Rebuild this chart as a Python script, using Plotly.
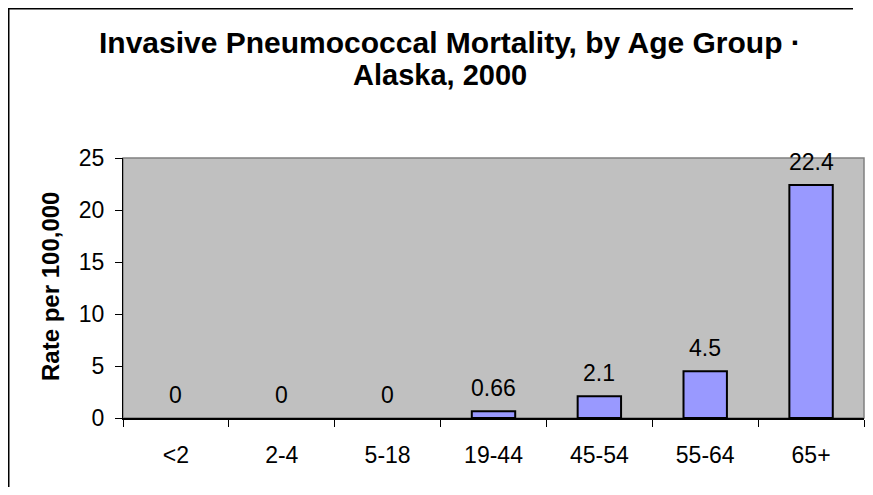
import plotly.graph_objects as go

categories = ["<2", "2-4", "5-18", "19-44", "45-54", "55-64", "65+"]
rates = [0, 0, 0, 0.66, 2.1, 4.5, 22.4]
labels = ["0", "0", "0", "0.66", "2.1", "4.5", "22.4"]
y_ticks = [0, 5, 10, 15, 20, 25]
title_lines = ["Invasive Pneumococcal Mortality, by Age Group ·", "Alaska, 2000"]
y_title = "Rate per 100,000"

FONT = "Liberation Sans, Arial, sans-serif"
W, H = 857, 479
L, R, T, B = 115, 1, 150, 69
PW, PH = W - L - R, H - T - B


def px_x(px):
    return (px - L) / PW


def px_y(py):
    return (H - B - py) / PH


fig = go.Figure()
fig.add_trace(go.Bar(
    x=categories, y=rates,
    marker=dict(color="#9999FF",
                line=dict(color="black", width=[0 if v == 0 else 2 for v in rates])),
    width=0.41,
    hoverinfo="skip",
))

for c, v, t in zip(categories, rates, labels):
    fig.add_annotation(x=c, y=v, text=t, showarrow=False, yanchor="middle",
                       yshift=23, font=dict(family=FONT, size=23, color="black"))

# title lines
fig.add_annotation(xref="paper", yref="paper", x=px_x(442), y=px_y(34),
                   text="<b>" + title_lines[0] + "</b>", showarrow=False,
                   xanchor="center", yanchor="middle",
                   font=dict(family=FONT, size=30, color="black"))
fig.add_annotation(xref="paper", yref="paper", x=px_x(432), y=px_y(67),
                   text="<b>" + title_lines[1] + "</b>", showarrow=False,
                   xanchor="center", yanchor="middle",
                   font=dict(family=FONT, size=29, color="black"))
# y-axis title
fig.add_annotation(xref="paper", yref="paper", x=px_x(42), y=px_y(279),
                   text="<b>" + y_title + "</b>", showarrow=False, textangle=-90,
                   xanchor="center", yanchor="middle",
                   font=dict(family=FONT, size=24, color="black"))

fig.update_layout(
    width=W, height=H,
    margin=dict(l=L, r=R, t=T, b=B, autoexpand=False),
    paper_bgcolor="white",
    plot_bgcolor="#C0C0C0",
    showlegend=False,
    font=dict(family=FONT, size=23, color="black"),
)

fig.update_xaxes(
    type="category",
    showline=True, linecolor="black", linewidth=1.5,
    ticks="outside", tickson="boundaries", ticklen=7, tickcolor="black",
    tickfont=dict(family=FONT, size=23, color="black"),
    ticklabelstandoff=16,
    showgrid=False, zeroline=False, automargin=False,
)
fig.update_yaxes(
    range=[0, 25], tickvals=y_ticks,
    showline=True, linecolor="black", linewidth=1,
    ticks="outside", ticklen=7, tickcolor="black",
    tickfont=dict(family=FONT, size=23, color="black"),
    ticklabelstandoff=6,
    showgrid=False, zeroline=False, automargin=False,
)

# plot area border (gray)
fig.add_shape(type="rect", xref="paper", yref="paper", x0=0, x1=1, y0=0, y1=1,
              line=dict(color="#808080", width=1.5), layer="below")
# outer chart border (left and top edges; right/bottom lie outside the view)
fig.add_shape(type="line", xref="paper", yref="paper",
              x0=px_x(0.75), x1=px_x(0.75), y0=px_y(0), y1=px_y(H),
              line=dict(color="black", width=1.5))
fig.add_shape(type="path", xref="paper", yref="paper",
              path="M {:.5f} {:.5f} L {:.5f} {:.5f}".format(px_x(0), px_y(0.75), px_x(W - 12), px_y(0.75)),
              line=dict(color="black", width=1.5))

fig.write_html("out.html")
